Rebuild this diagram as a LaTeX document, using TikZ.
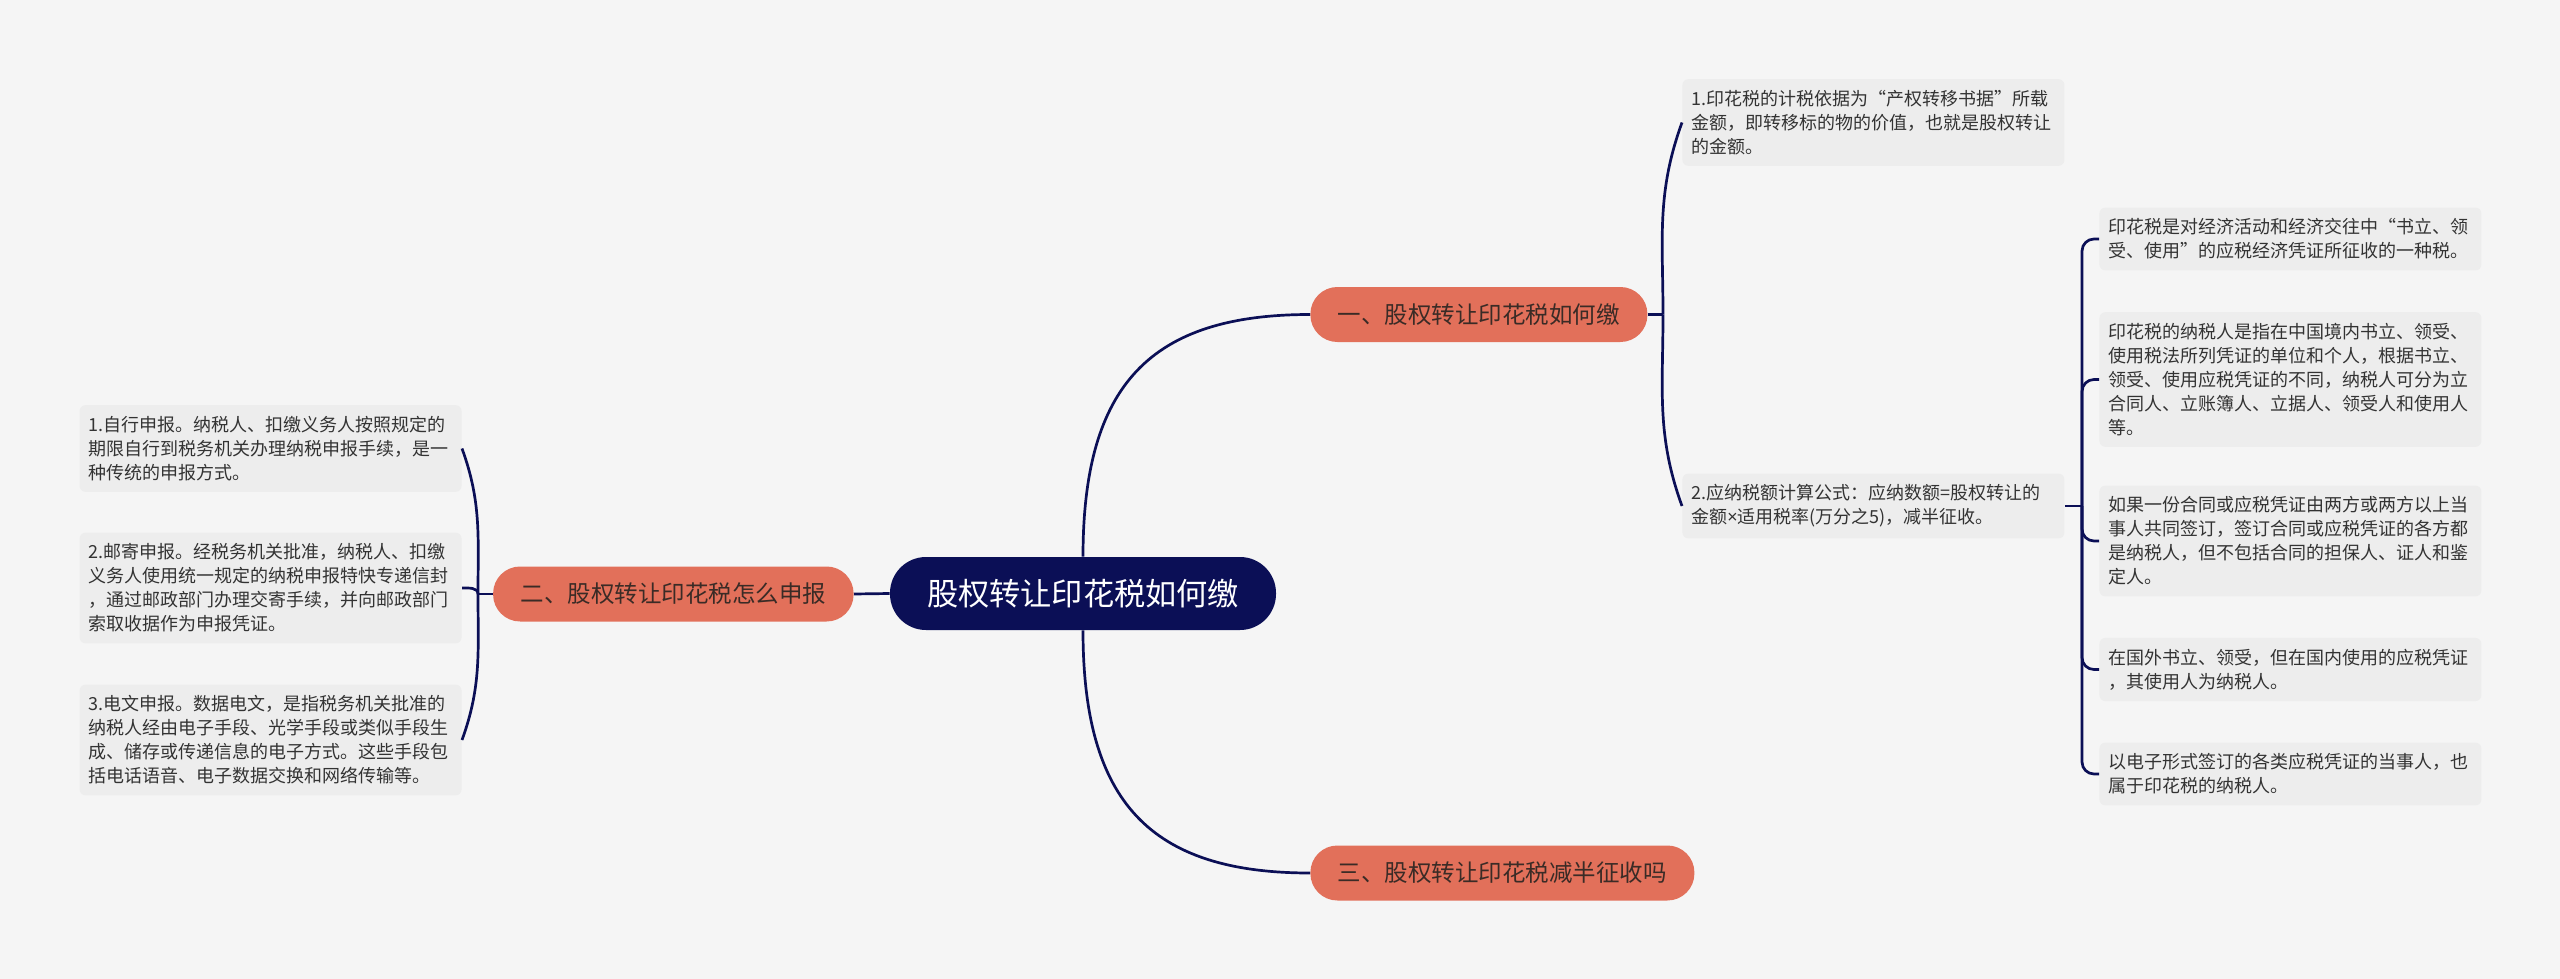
\documentclass[tikz,border=0pt]{standalone}
\usepackage{fontspec}
\setmainfont{Noto Sans CJK SC}
\newfontfamily\narrowsym{Noto Sans}
\usetikzlibrary{positioning}
\definecolor{navy}{HTML}{0B0F56}
\definecolor{coral}{HTML}{E2705A}
\definecolor{bgc}{HTML}{F5F5F5}
\definecolor{leafc}{HTML}{EDEDED}
\definecolor{ink}{HTML}{333333}
\definecolor{brink}{HTML}{3A2B26}
\begin{document}
\begin{tikzpicture}[x=50pt,y=50pt,
  link/.style={draw=navy,line width=1.35pt},
  rootbox/.style={fill=navy,text=white,rounded corners=18pt,minimum width=193pt,minimum height=36.5pt,inner ysep=0pt,font=\fontsize{15.6}{18}\selectfont},
  branch/.style={fill=coral,text=brink,rounded corners=13.5pt,inner xsep=13.75pt,inner ysep=0pt,minimum height=27.5pt,font=\fontsize{11.75}{14}\selectfont},
  leaf/.style={fill=leafc,text=ink,rounded corners=3pt,text width=182pt,inner xsep=4.5pt,inner ysep=5.5pt,align=left,font=\fontsize{9}{12}\selectfont}]
\fill[bgc] (0,0) rectangle (25.6,-9.79);
\useasboundingbox (0,0) rectangle (25.6,-9.79);
\node[rootbox] (root) at (10.83,-5.935) {股权转让印花税如何缴};
\node[branch,anchor=west] (b1) at (13.10,-3.145) {一、股权转让印花税如何缴};
\node[branch,anchor=east] (b2) at (8.54,-5.94) {二、股权转让印花税怎么申报};
\node[branch,anchor=west] (b3) at (13.10,-8.73) {三、股权转让印花税减半征收吗};
\node[leaf,anchor=west] (a1) at (16.82,-1.225) {1.印花税的计税依据为“产权转移书据”所载\\金额，即转移标的物的价值，也就是股权转让\\的金额。};
\node[leaf,anchor=west] (a2) at (16.82,-5.06) {2.应纳税额计算公式：应纳数额=股权转让的\\金额{\narrowsym ×}适用税率(万分之5)，减半征收。};
\node[leaf,anchor=west] (s1) at (20.99,-2.39) {印花税是对经济活动和经济交往中“书立、领\\受、使用”的应税经济凭证所征收的一种税。};
\node[leaf,anchor=west] (s2) at (20.99,-3.795) {印花税的纳税人是指在中国境内书立、领受、\\使用税法所列凭证的单位和个人，根据书立、\\领受、使用应税凭证的不同，纳税人可分为立\\合同人、立账簿人、立据人、领受人和使用人\\等。};
\node[leaf,anchor=west] (s3) at (20.99,-5.41) {如果一份合同或应税凭证由两方或两方以上当\\事人共同签订，签订合同或应税凭证的各方都\\是纳税人，但不包括合同的担保人、证人和鉴\\定人。};
\node[leaf,anchor=west] (s4) at (20.99,-6.695) {在国外书立、领受，但在国内使用的应税凭证\\，其使用人为纳税人。};
\node[leaf,anchor=west] (s5) at (20.99,-7.74) {以电子形式签订的各类应税凭证的当事人，也\\属于印花税的纳税人。};
\node[leaf,anchor=east] (c1) at (4.62,-4.485) {1.自行申报。纳税人、扣缴义务人按照规定的\\期限自行到税务机关办理纳税申报手续，是一\\种传统的申报方式。};
\node[leaf,anchor=east] (c2) at (4.62,-5.88) {2.邮寄申报。经税务机关批准，纳税人、扣缴\\义务人使用统一规定的纳税申报特快专递信封\\，通过邮政部门办理交寄手续，并向邮政部门\\索取收据作为申报凭证。};
\node[leaf,anchor=east] (c3) at (4.62,-7.40) {3.电文申报。数据电文，是指税务机关批准的\\纳税人经由电子手段、光学手段或类似手段生\\成、储存或传递信息的电子方式。这些手段包\\括电话语音、电子数据交换和网络传输等。};
\draw[link] (root.north) .. controls (10.83,-3.85) and (11.5,-3.145) .. (b1.west);
\draw[link] (root.south) .. controls (10.83,-8.02) and (11.5,-8.73) .. (b3.west);
\draw[link] (root.west) -- (b2.east);
\coordinate (j1) at (16.63,-3.145);
\draw[link] (b1.east) -- (j1);
\draw[link] (j1) to[out=90,in=250] (a1.west);
\draw[link] (j1) to[out=-90,in=110] (a2.west);
\coordinate (j2) at (20.82,-5.06);
\draw[link] (a2.east) -- (j2);
\foreach \s in {s1,s2,s3,s4,s5}
  \draw[link,rounded corners=6pt] (j2) |- (\s.west);
\coordinate (j3) at (4.78,-5.94);
\draw[link] (b2.west) -- (j3);
\draw[link] (j3) to[out=90,in=-70] (c1.east);
\draw[link] (j3) to[out=90,in=0] (c2.east);
\draw[link] (j3) to[out=-90,in=70] (c3.east);
\end{tikzpicture}
\end{document}
